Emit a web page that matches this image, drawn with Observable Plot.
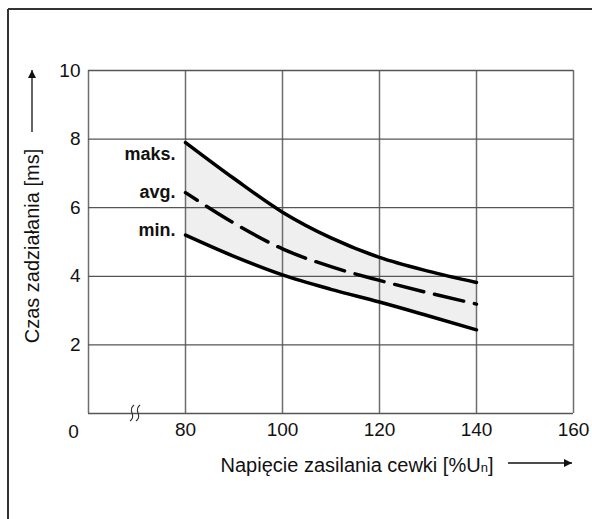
<!DOCTYPE html>
<html>
<head>
<meta charset="utf-8">
<script src="https://cdn.jsdelivr.net/npm/d3@7"></script>
<script src="https://cdn.jsdelivr.net/npm/@observablehq/plot@0.6"></script>
<style>
  html, body { margin: 0; padding: 0; background: white; }
</style>
</head>
<body>
<div id="chart"></div>
<script>
// Data
const voltage = [80, 90, 100, 110, 120, 130, 140];          // % Un
const tMax    = [7.9, 6.85, 5.87, 5.12, 4.55, 4.15, 3.82];  // ms
const tAvg    = [6.44, 5.55, 4.8, 4.28, 3.88, 3.52, 3.19];  // ms
const tMin    = [5.2, 4.58, 4.04, 3.62, 3.25, 2.85, 2.44];  // ms

const seriesLabels = ["maks.", "avg.", "min."];
const labelY = [7.55, 6.45, 5.35];

const xTicks = [80, 100, 120, 140, 160];
const yTicks = [2, 4, 6, 8, 10];
const gridXValues = [60, 80, 100, 120, 140, 160];
const gridYValues = [0, 2, 4, 6, 8, 10];
const originLabel = ["0"];
const breakX = 69.7;

const xTitle = "Napięcie zasilania cewki [%U";
const xTitleSub = "n";
const xTitleEnd = "]";
const yTitle = "Czas zadziałania [ms]";

const rows = voltage.map((v, i) => ({v, max: tMax[i], avg: tAvg[i], min: tMin[i]}));

const W = 592, H = 519;
const chart = Plot.plot({
  width: W,
  height: H,
  marginLeft: 88,
  marginRight: 19,
  marginTop: 70,
  marginBottom: 106,
  style: {fontFamily: "'Liberation Sans', Arial, sans-serif", fontSize: "19px", background: "white", color: "#111"},
  x: {domain: [60, 160]},
  y: {domain: [0, 10]},
  marks: [
    Plot.areaY(rows, {x: "v", y1: "min", y2: "max", fill: "#efefef", curve: "monotone-x"}),
    Plot.gridX(gridXValues, {stroke: "#6e6e6e", strokeOpacity: 1, strokeWidth: 1.5}),
    Plot.gridY(gridYValues, {stroke: "#555", strokeOpacity: 1, strokeWidth: 1.3}),
    Plot.line(rows, {x: "v", y: "max", stroke: "black", strokeWidth: 3.5, curve: "monotone-x"}),
    Plot.line(rows, {x: "v", y: "min", stroke: "black", strokeWidth: 3.5, curve: "monotone-x"}),
    Plot.line(rows, {x: "v", y: "avg", stroke: "black", strokeWidth: 3.5, curve: "monotone-x", strokeDasharray: "30,11", strokeDashoffset: 16}),
    Plot.axisX(xTicks, {tickSize: 0, tickPadding: 9, label: null}),
    Plot.axisY(yTicks, {tickSize: 0, tickPadding: 8, label: null}),
    Plot.text(originLabel, {x: 60, y: 0, dx: -15, dy: 18}),
    Plot.text(seriesLabels, {x: 80, y: labelY, textAnchor: "end", dx: -10, fontWeight: "bold", fontSize: 18})
  ]
});

const svg = d3.select(chart);
// outer border (top & left visible)
svg.append("line").attr("x1", 8).attr("x2", W).attr("y1", 9).attr("y2", 9).attr("stroke", "#333").attr("stroke-width", 2);
svg.append("line").attr("x1", 8).attr("x2", 8).attr("y1", 9).attr("y2", H).attr("stroke", "#333").attr("stroke-width", 2);

// axis break symbol on the x axis
const bx = chart.scale("x").apply(breakX);
const by = chart.scale("y").apply(0);
[-3, 3].forEach(off => {
  const x = bx + off;
  svg.append("path")
    .attr("d", `M${x + 2},${by - 8} Q${x - 2},${by - 5} ${x},${by} Q${x + 2},${by + 5} ${x - 2},${by + 8}`)
    .attr("fill", "none").attr("stroke", "#333").attr("stroke-width", 1.1);
});

const defs = svg.append("defs");
defs.append("marker").attr("id", "ah").attr("viewBox", "0 0 10 10").attr("refX", 10).attr("refY", 5)
  .attr("markerWidth", 11).attr("markerHeight", 8).attr("markerUnits", "userSpaceOnUse").attr("orient", "auto")
  .append("path").attr("d", "M0,0 L10,5 L0,10 Z").attr("fill", "#111");

// x title + arrow
const xt = svg.append("text").attr("x", 357).attr("y", 472).attr("text-anchor", "middle")
  .attr("font-size", 20).attr("fill", "#111");
xt.append("tspan").text(xTitle);
xt.append("tspan").attr("font-size", 13).text(xTitleSub);
xt.append("tspan").text(xTitleEnd);
svg.append("line").attr("x1", 508).attr("x2", 572).attr("y1", 463).attr("y2", 463)
  .attr("stroke", "#111").attr("stroke-width", 1.3).attr("marker-end", "url(#ah)");

// y title + arrow
svg.append("text").attr("transform", "translate(39,246) rotate(-90)").attr("text-anchor", "middle")
  .attr("font-size", 20).attr("fill", "#111").text(yTitle);
svg.append("line").attr("x1", 32).attr("x2", 32).attr("y1", 132).attr("y2", 70)
  .attr("stroke", "#111").attr("stroke-width", 1.3).attr("marker-end", "url(#ah)");

document.getElementById("chart").appendChild(chart);
</script>
</body>
</html>
